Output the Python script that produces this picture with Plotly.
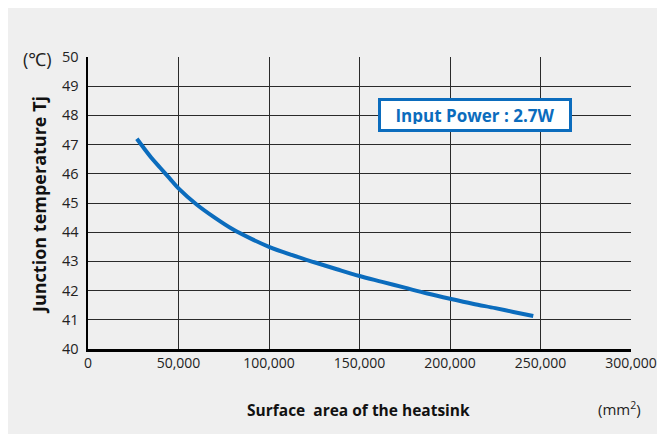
import plotly.graph_objects as go

# Data
surface_area = [27000, 30000, 35000, 40000, 45000, 50000, 60000, 70000, 80000, 90000,
                100000, 112500, 125000, 137500, 150000, 162500, 175000, 187500,
                200000, 212500, 225000, 235000, 246000]
junction_temp = [47.2, 46.95, 46.55, 46.2, 45.85, 45.5, 44.95, 44.5, 44.1, 43.78,
                 43.5, 43.22, 42.97, 42.73, 42.5, 42.3, 42.1, 41.9,
                 41.72, 41.55, 41.4, 41.27, 41.13]
x_ticks = [0, 50000, 100000, 150000, 200000, 250000, 300000]
x_tick_labels = ["0", "50,000", "100,000", "150,000", "200,000", "250,000", "300,000"]
y_ticks = list(range(40, 51))

W, H = 657, 434
L, R, T, B = 88, 26, 57, 85
pw = W - L - R
ph = H - T - B

def px_x(px):
    return (px - L) / pw

def px_y(py):
    return 1 - (py - T) / ph

fig = go.Figure()
fig.add_trace(go.Scatter(
    x=surface_area, y=junction_temp, mode="lines",
    line=dict(color="#0b6cbd", width=4, shape="spline"),
    hoverinfo="skip", showlegend=False))

fig.add_shape(type="rect", xref="paper", yref="paper",
              x0=px_x(8), x1=px_x(W + 5), y0=px_y(H + 5), y1=px_y(8),
              fillcolor="#efefef", line=dict(width=0), layer="below")

font_main = "Open Sans, Noto Sans, sans-serif"

fig.update_layout(
    width=W, height=H, autosize=False,
    margin=dict(l=L, r=R, t=T, b=B, autoexpand=False),
    paper_bgcolor="white", plot_bgcolor="white",
    font=dict(family=font_main, size=14, color="#222"),
    xaxis=dict(range=[0, 300000], tickvals=x_ticks, ticktext=x_tick_labels,
               showgrid=True, gridcolor="#2a2a2a", gridwidth=1,
               showline=True, linecolor="black", linewidth=2.5,
               zeroline=False, ticks="", tickfont=dict(size=14, color="#222"),
               automargin=False, fixedrange=True),
    yaxis=dict(range=[40, 50], tickvals=y_ticks,
               showgrid=True, gridcolor="#2a2a2a", gridwidth=1,
               showline=True, linecolor="black", linewidth=2.5,
               zeroline=False, ticks="", ticklabelstandoff=4,
               tickfont=dict(size=14.5, color="#222"),
               automargin=False, fixedrange=True),
)

def note(x, y, text, **kw):
    fig.add_annotation(xref="paper", yref="paper", x=px_x(x), y=px_y(y),
                       xanchor="center", yanchor="middle", text=text,
                       showarrow=False, **kw)

# Axis titles
note(358, 410, "<b>Surface  area of the heatsink</b>",
     font=dict(size=15.5, color="#111", family=font_main))
note(619, 408, "(mm<sup>2</sup>)",
     font=dict(size=15, color="#222", family=font_main))
note(39, 205, "<b>Junction temperature Tj</b>", textangle=-90,
     font=dict(size=18, color="#111", family=font_main))
note(37, 59, "(℃)",
     font=dict(size=18, color="#222", family=font_main))

# Input power box
note(475, 115, "<b>Input Power : 2.7W</b>",
     font=dict(size=17, color="#0b6cbd", family=font_main),
     bgcolor="white", bordercolor="#0b6cbd", borderwidth=3,
     borderpad=5, width=178, height=18)

fig.write_html("out.html",
               config={"responsive": False, "displayModeBar": False, "staticPlot": True},
               post_script="document.body.style.margin='0';document.body.style.overflow='hidden';")
